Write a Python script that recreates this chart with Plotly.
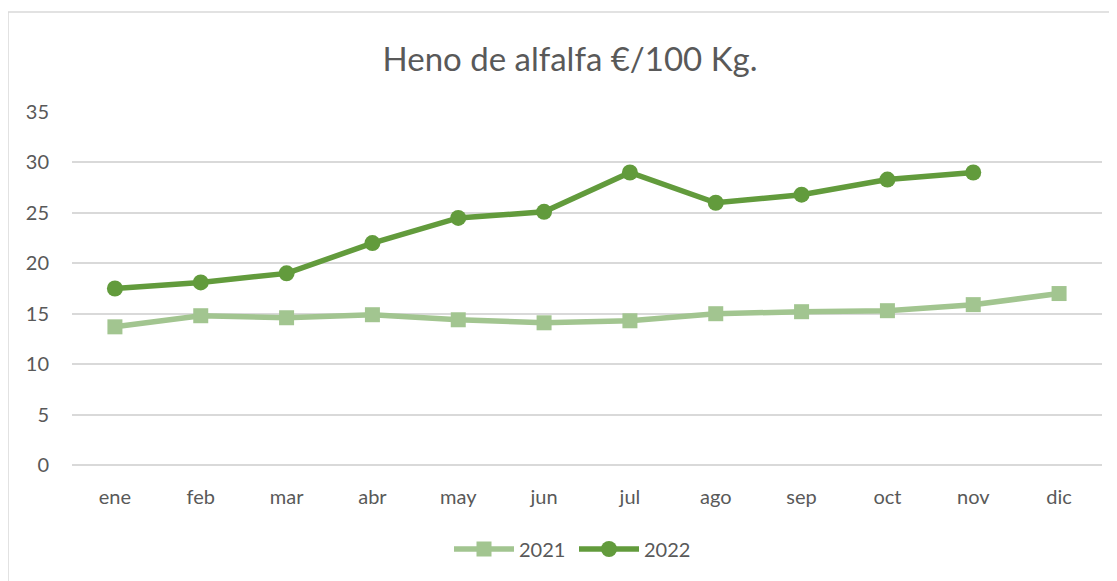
import plotly.graph_objects as go

months = ["ene", "feb", "mar", "abr", "may", "jun", "jul", "ago", "sep", "oct", "nov", "dic"]
values_2021 = [13.7, 14.8, 14.6, 14.9, 14.4, 14.1, 14.3, 15.0, 15.2, 15.3, 15.9, 17.0]
values_2022 = [17.5, 18.1, 19.0, 22.0, 24.5, 25.1, 29.0, 26.0, 26.8, 28.3, 29.0]
y_ticks = [0, 5, 10, 15, 20, 25, 30, 35]

c2021 = "#a2c590"
c2022 = "#629b3c"
txt = "#595959"
font = "Lato, 'Open Sans', sans-serif"

fig = go.Figure()
fig.add_trace(go.Scatter(
    x=months, y=values_2021, name="2021", mode="lines+markers",
    line=dict(color=c2021, width=5.5),
    marker=dict(symbol="square", size=15, color=c2021),
))
fig.add_trace(go.Scatter(
    x=months[:len(values_2022)], y=values_2022, name="2022", mode="lines+markers",
    line=dict(color=c2022, width=5.5),
    marker=dict(symbol="circle", size=16, color=c2022),
))

# page body has an 8px margin, so the figure is drawn 8px smaller and shifted
OFF = 8
W, H = 1117 - OFF, 581 - OFF
L, T = 72 - OFF, 112 - OFF
R = W - (1102 - OFF)
B = H - (465 - OFF)
pw = W - L - R
ph = H - T - B

fig.update_layout(
    width=W, height=H,
    margin=dict(l=L, r=R, t=T, b=B),
    paper_bgcolor="white", plot_bgcolor="white",
    font=dict(family=font, color=txt, size=20),
    title=dict(text="Heno de alfalfa €/100 Kg.", font=dict(size=33, color=txt, family=font),
               x=(570 - 72) / pw, xref="paper", xanchor="center",
               y=1 - (59 - OFF) / H, yref="container", yanchor="middle"),
    xaxis=dict(categoryorder="array", categoryarray=months, range=[-0.5, 11.5],
               showgrid=False, showline=False, ticks="", zeroline=False,
               ticklabelstandoff=18, tickfont=dict(size=20, color=txt)),
    yaxis=dict(range=[0, 35], tickvals=y_ticks, showgrid=True, gridcolor="#d9d9d9",
               gridwidth=1.5, zeroline=True, zerolinecolor="#d9d9d9", zerolinewidth=1.5,
               showline=False, ticks="", ticklabelstandoff=22,
               tickfont=dict(size=20, color=txt)),
    legend=dict(orientation="h", x=(574 - 72) / pw, xanchor="center",
                y=(465 - 549) / ph, yanchor="middle",
                font=dict(size=20, color=txt), itemwidth=60,
                entrywidth=50, entrywidthmode="pixels"),
    showlegend=True,
)

fig.add_shape(type="rect", xref="paper", yref="paper",
              x0=(8 - 72) / pw, x1=(1110 - 72) / pw,
              y0=(465 - 600) / ph, y1=(465 - 12) / ph,
              line=dict(color="#d9d9d9", width=1.5), fillcolor="rgba(0,0,0,0)", layer="below")

fig.write_html("out.html")
